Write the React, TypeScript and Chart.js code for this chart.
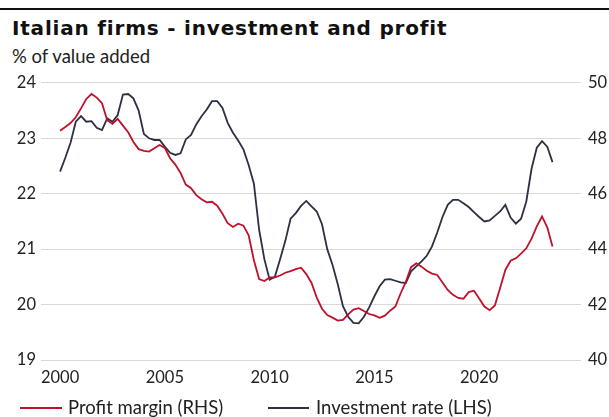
import React, { useEffect, useRef } from "react";
import { Chart, registerables } from "chart.js";

Chart.register(...registerables);

const startYear = 2000;
const yearTicks = [2000, 2005, 2010, 2015, 2020];
const leftTicks = [19, 20, 21, 22, 23, 24];
const rightTicks = [40, 42, 44, 46, 48, 50];
const seriesNames = ["Profit margin (RHS)", "Investment rate (LHS)"];

// Quarterly, 2000Q1 .. 2023Q3
const investmentRate = [
  22.40, 22.65, 22.92, 23.30, 23.40, 23.30, 23.31, 23.19, 23.15, 23.36,
  23.30, 23.42, 23.79, 23.80, 23.72, 23.50, 23.08, 23.00, 22.97, 22.97,
  22.85, 22.74, 22.70, 22.73, 22.98, 23.06, 23.25, 23.40, 23.52, 23.67,
  23.67, 23.55, 23.28, 23.10, 22.96, 22.80, 22.52, 22.18, 21.35, 20.82,
  20.45, 20.50, 20.82, 21.15, 21.55, 21.65, 21.78, 21.87, 21.77, 21.68,
  21.45, 21.00, 20.72, 20.37, 19.97, 19.78, 19.67, 19.66, 19.78, 19.95,
  20.15, 20.33, 20.45, 20.46, 20.43, 20.40, 20.39, 20.60, 20.69, 20.78,
  20.88, 21.05, 21.30, 21.58, 21.80, 21.89, 21.89, 21.83, 21.76, 21.67,
  21.58, 21.50, 21.52, 21.60, 21.68, 21.80, 21.57, 21.46, 21.55, 21.86,
  22.45, 22.83, 22.95, 22.85, 22.57,
];

const profitMargin = [
  48.27, 48.41, 48.55, 48.76, 49.08, 49.42, 49.60, 49.47, 49.27, 48.65,
  48.52, 48.70, 48.46, 48.22, 47.87, 47.61, 47.55, 47.52, 47.64, 47.76,
  47.65, 47.28, 47.05, 46.75, 46.33, 46.20, 45.95, 45.80, 45.69, 45.71,
  45.57, 45.28, 44.94, 44.80, 44.92, 44.85, 44.50, 43.60, 42.92, 42.85,
  42.98, 42.98, 43.05, 43.15, 43.21, 43.28, 43.33, 43.10, 42.78, 42.25,
  41.85, 41.62, 41.53, 41.42, 41.45, 41.65, 41.82, 41.87, 41.77, 41.66,
  41.61, 41.52, 41.60, 41.78, 41.93, 42.40, 42.82, 43.35, 43.49, 43.37,
  43.22, 43.12, 43.07, 42.80, 42.53, 42.35, 42.24, 42.21, 42.45, 42.50,
  42.22, 41.93, 41.80, 41.97, 42.60, 43.25, 43.58, 43.67, 43.84, 44.03,
  44.38, 44.82, 45.18, 44.79, 44.10,
];

const RED = "#c0102a";
const DARK = "#2b3042";
const FONT = "Lato, 'Open Sans', sans-serif";
const TICK_COLOR = "#222";

export default function App() {
  const ref = useRef<HTMLCanvasElement | null>(null);

  useEffect(() => {
    if (!ref.current) return;
    const toPts = (arr: number[]) =>
      arr.map((v, i) => ({ x: startYear + i / 4, y: v }));
    const tickFont = { family: FONT, size: 16.5 };
    const chart = new Chart(ref.current, {
      type: "line",
      data: {
        datasets: [
          {
            label: seriesNames[0],
            data: toPts(profitMargin),
            borderColor: RED,
            backgroundColor: RED,
            borderWidth: 1.8,
            pointRadius: 0,
            tension: 0,
            yAxisID: "y1",
          },
          {
            label: seriesNames[1],
            data: toPts(investmentRate),
            borderColor: DARK,
            backgroundColor: DARK,
            borderWidth: 1.8,
            pointRadius: 0,
            tension: 0,
            yAxisID: "y",
          },
        ],
      },
      options: {
        animation: false,
        responsive: false,
        maintainAspectRatio: false,
        layout: { padding: { top: 15.5, left: 0, right: 0, bottom: 29 } },
        plugins: {
          legend: { display: false },
          tooltip: { enabled: false },
        },
        scales: {
          x: {
            type: "linear",
            min: 1999.09,
            max: 2024.86,
            grid: { display: false, drawTicks: false },
            border: { display: false },
            afterBuildTicks: (scale: any) => {
              scale.ticks = yearTicks.map((v) => ({ value: v }));
            },
            afterFit: (scale: any) => {
              scale.height = 28;
            },
            ticks: {
              color: TICK_COLOR,
              font: tickFont,
              padding: 8,
              maxRotation: 0,
              callback: (v: any) => String(v),
            },
          },
          y: {
            position: "left",
            min: 19,
            max: 24,
            afterBuildTicks: (scale: any) => {
              scale.ticks = leftTicks.map((v) => ({ value: v }));
            },
            afterFit: (scale: any) => {
              scale.width = 41;
            },
            grid: { color: "#d9d9d9", lineWidth: 1, drawTicks: false },
            border: { display: false },
            ticks: {
              color: TICK_COLOR,
              font: tickFont,
              padding: 5,
            },
          },
          y1: {
            position: "right",
            min: 40,
            max: 50,
            afterBuildTicks: (scale: any) => {
              scale.ticks = rightTicks.map((v) => ({ value: v }));
            },
            afterFit: (scale: any) => {
              scale.width = 28;
            },
            grid: { display: false, drawTicks: false },
            border: { display: false },
            ticks: {
              color: TICK_COLOR,
              font: tickFont,
              padding: 7,
            },
          },
        },
      },
    });
    return () => chart.destroy();
  }, []);

  const legendItem = (
    color: string,
    label: string,
    lineLeft: number,
    lineWidth: number,
    textLeft: number
  ) => (
    <React.Fragment key={label}>
      <div
        style={{
          position: "absolute",
          left: lineLeft,
          top: 406.5,
          width: lineWidth,
          height: 2,
          background: color,
        }}
      />
      <div
        style={{
          position: "absolute",
          left: textLeft,
          top: 395.5,
          fontSize: 18.5,
          lineHeight: "22px",
          color: TICK_COLOR,
          whiteSpace: "nowrap",
        }}
      >
        {label}
      </div>
    </React.Fragment>
  );

  return (
    <div
      style={{
        position: "fixed",
        left: 0,
        top: 0,
        width: 609,
        height: 417,
        background: "#fff",
        overflow: "hidden",
        fontFamily: FONT,
      }}
    >
      <div
        style={{
          position: "absolute",
          left: 0,
          top: 8,
          width: 609,
          height: 2,
          background: "#111",
        }}
      />
      <div
        style={{
          position: "absolute",
          left: 12,
          top: 16,
          fontSize: 20,
          letterSpacing: 0.8,
          fontWeight: 700,
          fontFamily: "'DejaVu Sans', sans-serif",
          color: "#111",
          whiteSpace: "nowrap",
        }}
      >
        Italian firms - investment and profit
      </div>
      <div
        style={{
          position: "absolute",
          left: 12,
          top: 44.5,
          fontSize: 18.5,
          lineHeight: "22px",
          color: TICK_COLOR,
          whiteSpace: "nowrap",
        }}
      >
        % of value added
      </div>
      <canvas
        ref={ref}
        width={609}
        height={351}
        style={{ position: "absolute", left: 0, top: 66, width: 609, height: 351 }}
      />
      {legendItem(RED, seriesNames[0], 20, 42, 68)}
      {legendItem(DARK, seriesNames[1], 268, 41, 316)}
    </div>
  );
}
